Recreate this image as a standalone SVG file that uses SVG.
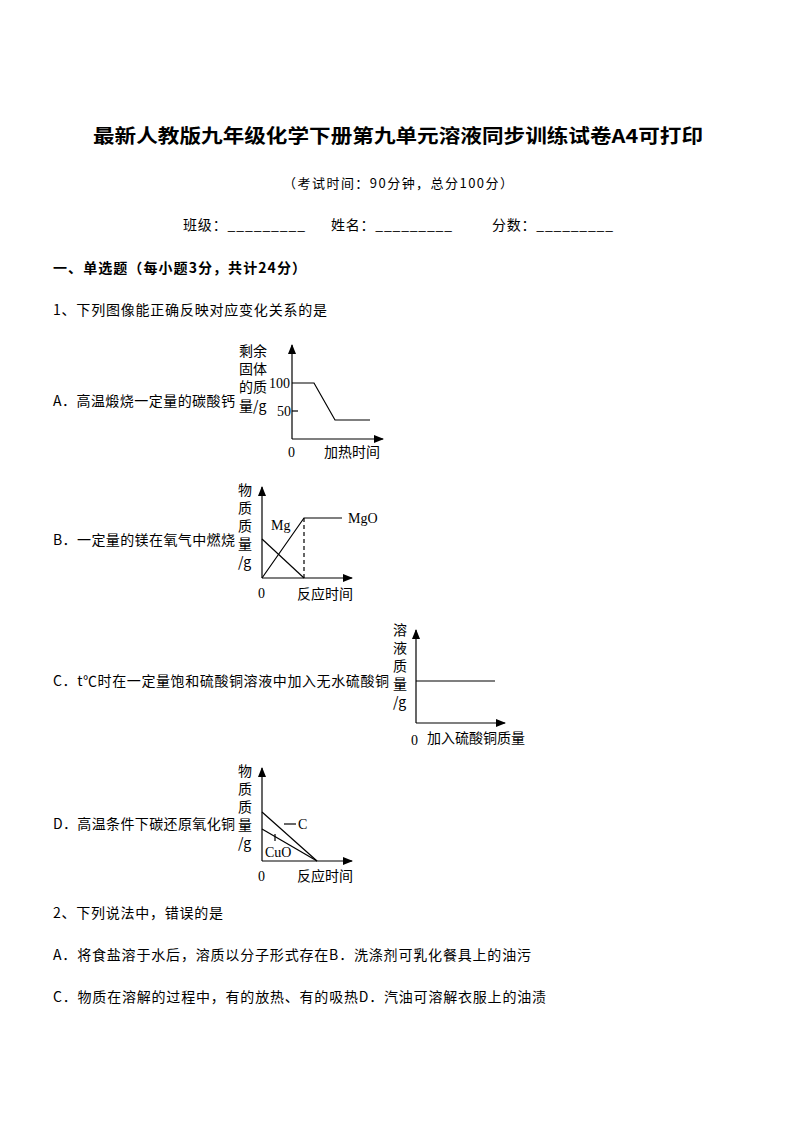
<svg xmlns="http://www.w3.org/2000/svg" width="794" height="1123" viewBox="0 0 794 1123">
<style>
text{font-family:"Noto Sans CJK SC","Liberation Serif",serif;font-size:14px;fill:#000}
.t{font-size:19px;font-weight:bold}
.b{font-weight:bold}
.s{font-size:13px}
.n{font-family:"Liberation Serif","Noto Sans CJK SC",serif;font-size:14px}
line,polyline{stroke:#000;stroke-width:1.2;fill:none}
</style>
<defs><marker id="ar" markerWidth="10" markerHeight="8" refX="9" refY="4" orient="auto" markerUnits="userSpaceOnUse"><path d="M0,0L10,4L0,8z" fill="#000"/></marker></defs>
<rect width="794" height="1123" fill="#fff"/>
<text class="t" x="93" y="143" textLength="610" lengthAdjust="spacingAndGlyphs">最新人教版九年级化学下册第九单元溶液同步训练试卷A4可打印</text>
<text x="283" y="188" class="s" textLength="230" lengthAdjust="spacing">（考试时间：90分钟，总分100分）</text>
<text x="183" y="230" textLength="122" lengthAdjust="spacing">班级：_________</text>
<text x="331" y="230" textLength="121" lengthAdjust="spacing">姓名：_________</text>
<text x="492" y="230" textLength="121" lengthAdjust="spacing">分数：_________</text>
<text class="b" x="53" y="273" textLength="253" lengthAdjust="spacing">一、单选题（每小题3分，共计24分）</text>
<text x="53" y="315" textLength="274" lengthAdjust="spacing">1、下列图像能正确反映对应变化关系的是</text>
<g id="A">
<text x="53" y="406" textLength="182" lengthAdjust="spacing">A．高温煅烧一定量的碳酸钙</text>
<text x="239" y="356">剩余</text><text x="239" y="374">固体</text><text x="239" y="392">的质</text><text x="239" y="411">量/g</text>
<line x1="292" y1="439" x2="292" y2="345" marker-end="url(#ar)"/>
<line x1="292" y1="439" x2="383" y2="439" marker-end="url(#ar)"/>
<polyline points="292,383 314,383 335,420 370,420"/>
<line x1="292" y1="411" x2="298" y2="411"/>
<text class="n" x="269" y="388">100</text><text class="n" x="277" y="416">50</text>
<text class="n" x="288" y="457">0</text><text x="324" y="457">加热时间</text>
</g>
<g id="B">
<text x="53" y="545" textLength="182" lengthAdjust="spacing">B．一定量的镁在氧气中燃烧</text>
<text x="238" y="495">物</text><text x="238" y="513">质</text><text x="238" y="531">质</text><text x="238" y="549">量</text><text x="238" y="567">/g</text>
<line x1="262" y1="578" x2="262" y2="487" marker-end="url(#ar)"/>
<line x1="262" y1="578" x2="352" y2="578" marker-end="url(#ar)"/>
<polyline points="262,578 304,518 342,518"/>
<line x1="262" y1="539" x2="304" y2="578"/>
<line x1="304" y1="518" x2="304" y2="578" stroke-dasharray="4,3"/>
<text class="n" x="271" y="530">Mg</text><text class="n" x="348" y="523">MgO</text>
<text class="n" x="258" y="598">0</text><text x="297" y="599">反应时间</text>
</g>
<g id="C">
<text x="53" y="686" textLength="336" lengthAdjust="spacing">C．t℃时在一定量饱和硫酸铜溶液中加入无水硫酸铜</text>
<text x="393" y="635">溶</text><text x="393" y="653">液</text><text x="393" y="671">质</text><text x="393" y="689">量</text><text x="393" y="707">/g</text>
<line x1="416" y1="723" x2="416" y2="630" marker-end="url(#ar)"/>
<line x1="416" y1="723" x2="505" y2="723" marker-end="url(#ar)"/>
<line x1="416" y1="681" x2="495" y2="681"/>
<text class="n" x="411" y="745">0</text><text x="427" y="743">加入硫酸铜质量</text>
</g>
<g id="D">
<text x="53" y="829" textLength="182" lengthAdjust="spacing">D．高温条件下碳还原氧化铜</text>
<text x="238" y="776">物</text><text x="238" y="794">质</text><text x="238" y="812">质</text><text x="238" y="830">量</text><text x="238" y="848">/g</text>
<line x1="262" y1="861" x2="262" y2="768" marker-end="url(#ar)"/>
<line x1="262" y1="861" x2="352" y2="861" marker-end="url(#ar)"/>
<line x1="262" y1="812" x2="317" y2="861"/>
<line x1="262" y1="829" x2="317" y2="861"/>
<line x1="284" y1="824" x2="296" y2="824"/>
<line x1="275" y1="834" x2="275" y2="841"/>
<text class="n" x="298" y="829">C</text><text class="n" x="265" y="857">CuO</text>
<text class="n" x="258" y="881">0</text><text x="297" y="881">反应时间</text>
</g>
<text x="53" y="918" textLength="170" lengthAdjust="spacing">2、下列说法中，错误的是</text>
<text x="53" y="960" textLength="478" lengthAdjust="spacing">A．将食盐溶于水后，溶质以分子形式存在B．洗涤剂可乳化餐具上的油污</text>
<text x="53" y="1002" textLength="493" lengthAdjust="spacing">C．物质在溶解的过程中，有的放热、有的吸热D．汽油可溶解衣服上的油渍</text>
</svg>
